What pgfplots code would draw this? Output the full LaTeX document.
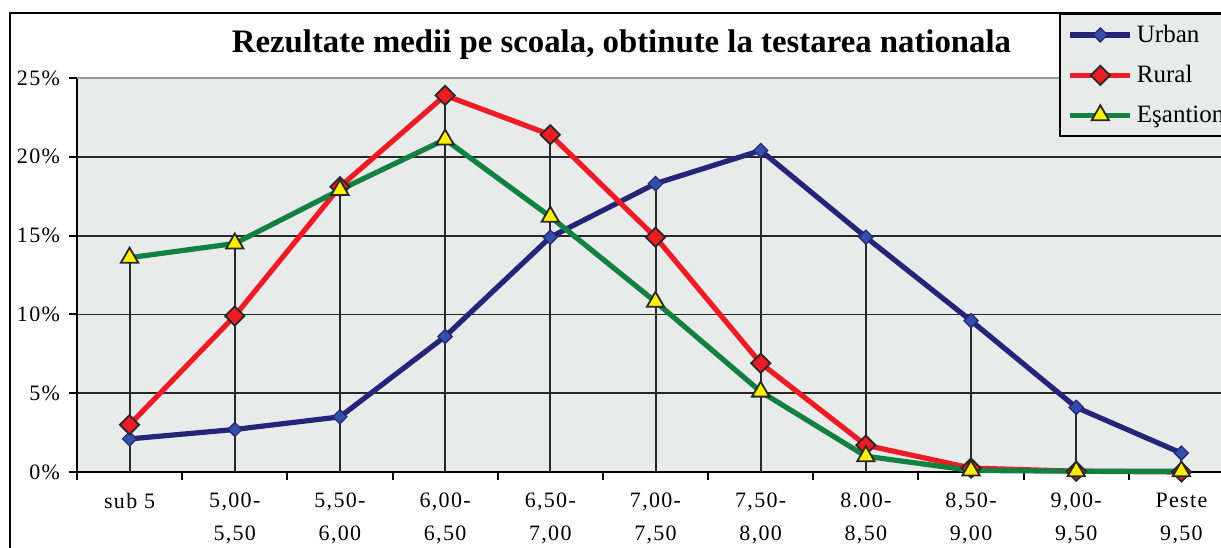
\documentclass[border=0pt]{standalone}
\usepackage{pgfplots}
\pgfplotsset{compat=1.18}
\usepackage{fontspec}
\setmainfont{Liberation Serif}
\newfontfamily\spaced[LetterSpace=6]{Liberation Serif}
\definecolor{plotbg}{RGB}{233,234,234}
\definecolor{urbanline}{RGB}{36,36,120}
\definecolor{urbanfill}{RGB}{50,80,168}
\definecolor{ruralline}{RGB}{237,28,36}
\definecolor{greenline}{RGB}{18,128,64}
\definecolor{triyellow}{RGB}{255,240,0}
\definecolor{gridc}{RGB}{40,40,40}
\begin{document}
\begin{tikzpicture}
\useasboundingbox (0,0) rectangle (610.5pt,-273.5pt);
\fill[white] (0,0) rectangle (610.5pt,-273.5pt);
\begin{axis}[
  at={(38.5pt,-236pt)}, anchor=south west,
  scale only axis, width=578.5pt, height=197pt,
  xmin=-0.5, xmax=10.5, ymin=0, ymax=25,
  axis background/.style={fill=plotbg},
  axis x line*=bottom, axis y line*=left,
  axis line style={line width=1pt, black, -},
  xtick={0,...,10},
  xticklabels={sub 5,{5,00-\\5,50},{5,50-\\6,00},{6,00-\\6,50},{6,50-\\7,00},{7,00-\\7,50},{7,50-\\8,00},{8.00-\\8,50},{8,50-\\9,00},{9,00-\\9,50},{Peste\\9,50}},
  xticklabel style={align=center, font=\spaced\fontsize{11pt}{16.5pt}\selectfont, anchor=north, yshift=-3pt},
  major x tick style={draw=none},
  minor xtick={-0.5,0.5,...,10.5},
  minor tick length=4pt,
  minor x tick style={line width=1pt, black},
  ytick={0,5,...,25},
  yticklabels={0\%,5\%,10\%,15\%,20\%,25\%},
  yticklabel style={font=\spaced\fontsize{11pt}{13pt}\selectfont, xshift=-1pt},
  major tick length=4pt,
  major y tick style={line width=1pt, black},
  tick align=outside,
  ymajorgrids,
  grid style={line width=0.9pt, gridc},
  clip=false,
  legend style={at={(0.8487,1.165)}, anchor=north west, draw=black, line width=0.8pt, fill=plotbg,
    font=\fontsize{12.5pt}{15pt}\selectfont, inner xsep=4pt, inner ysep=3.5pt, row sep=6pt, legend cell align=left},
  legend image code/.code={\draw[mark repeat=2,mark phase=2] plot coordinates {(0pt,0pt) (15pt,0pt) (30pt,0pt)};},
]
\draw[line width=1pt, gray!80] (axis cs:-0.5,25) -- (axis cs:10.5,25);
\addplot[ycomb, line width=1pt, gridc, mark=none, forget plot] coordinates {
(0,13.6) (1,14.5) (2,18.1) (3,23.9) (4,21.4) (5,18.3) (6,20.4) (7,14.9) (8,9.6) (9,4.1) (10,1.2)};
\addplot[line width=2.6pt, urbanline, mark=square*, mark size=2.5pt, mark options={rotate=45, fill=urbanfill, draw=urbanline, line width=0.6pt}] coordinates {
(0,2.1) (1,2.7) (2,3.5) (3,8.6) (4,14.9) (5,18.3) (6,20.4) (7,14.9) (8,9.6) (9,4.1) (10,1.2)};
\addlegendentry{Urban}
\addplot[line width=2.6pt, ruralline, mark=square*, mark size=3.4pt, mark options={rotate=45, fill=ruralline, draw=gridc, line width=0.9pt}] coordinates {
(0,3.0) (1,9.9) (2,18.1) (3,23.9) (4,21.4) (5,14.9) (6,6.9) (7,1.7) (8,0.25) (9,0.05) (10,0)};
\addlegendentry{Rural}
\addplot[line width=2.6pt, greenline, mark=triangle*, mark size=5pt, mark options={fill=triyellow, draw=gridc, line width=0.9pt}] coordinates {
(0,13.6) (1,14.5) (2,17.9) (3,21.1) (4,16.2) (5,10.8) (6,5.1) (7,1.0) (8,0.1) (9,0.05) (10,0.05)};
\addlegendentry{Eşantion}
\end{axis}
\draw[line width=1pt] (5pt,-400pt) -- (5pt,-6.5pt) -- (700pt,-6.5pt);
\node[anchor=base, font=\bfseries\fontsize{16.4pt}{18pt}\selectfont] at (310.75pt,-26pt) {Rezultate medii pe scoala, obtinute la testarea nationala};
\end{tikzpicture}
\end{document}
